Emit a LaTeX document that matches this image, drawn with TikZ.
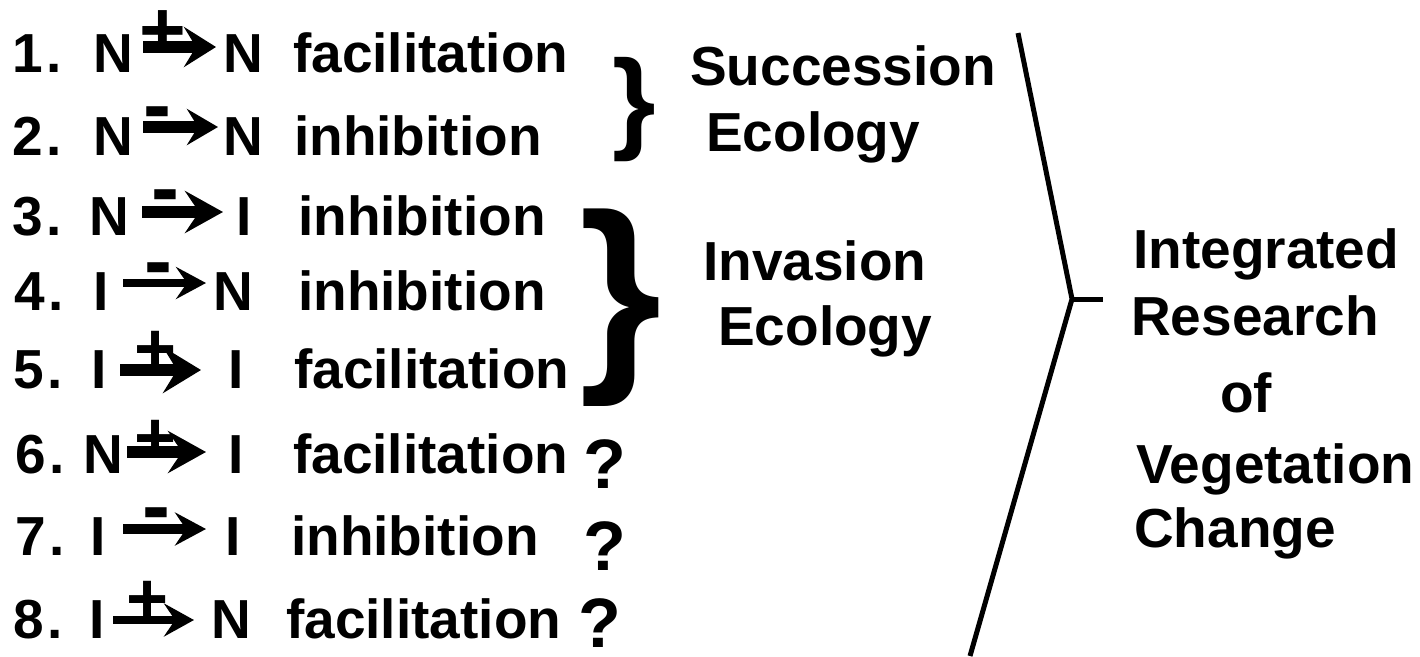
\documentclass[tikz,border=0pt]{standalone}
\usepackage{fontspec}
\setmainfont{Liberation Sans}
\usetikzlibrary{arrows.meta}
\tikzset{
  txt/.style={anchor=base west, inner sep=0pt, font=\fontsize{55}{66}\selectfont\bfseries},
  qmk/.style={anchor=base west, inner sep=0pt, font=\fontsize{70}{80}\selectfont\bfseries},
  sgn/.style={anchor=base, inner sep=0pt, font=\fontsize{#1}{#1}\selectfont\bfseries},
  brc/.style={anchor=base, inner sep=0pt, font=\fontsize{#1}{#1}\selectfont\bfseries},
  rel/.style n args={4}{line width=#1pt, -{Stealth[length=#2pt, width=#3pt, inset=#4pt]}},
  link/.style={line width=5pt}
}
\begin{document}
\begin{tikzpicture}[x=1pt, y=-1pt]
\useasboundingbox (0,0) rectangle (1420,656);
% row 1
\node[txt] (n1) at (12,72) {1\kern4pt.};
\node[txt] (a1) at (93,72) {N};
\node[txt] (b1) at (223,72) {N};
\node[txt] (w1) at (293,72) {facilitation};
\coordinate (p1) at (143,47); \coordinate (q1) at (216,47);
\draw[rel={12}{32}{40}{12}] (p1) -- (q1);
\node[sgn=80] (s1) at (162.5,57) {+};
% row 2
\node[txt] (n2) at (12,155) {2\kern4pt.};
\node[txt] (a2) at (93,155) {N};
\node[txt] (b2) at (223,155) {N};
\node[txt] (w2) at (294,155) {inhibition};
\coordinate (p2) at (143,127); \coordinate (q2) at (218,127);
\draw[rel={12}{31}{36}{11}] (p2) -- (q2);
\node[sgn=84] (s2) at (157,133) {-};
% row 3
\node[txt] (n3) at (12,235) {3\kern4pt.};
\node[txt] (a3) at (89,235) {N};
\node[txt] (b3) at (236,235) {I};
\node[txt] (w3) at (298,235) {inhibition};
\coordinate (p3) at (142,212); \coordinate (q3) at (223,212);
\draw[rel={12}{38}{42}{14}] (p3) -- (q3);
\node[sgn=84] (s3) at (165,216) {-};
% row 4
\node[txt] (n4) at (14,310) {4\kern4pt.};
\node[txt] (a4) at (93,310) {I};
\node[txt] (b4) at (213,310) {N};
\node[txt] (w4) at (298,310) {inhibition};
\coordinate (p4) at (123,283); \coordinate (q4) at (206,283);
\draw[rel={8}{30}{32}{11}] (p4) -- (q4);
\node[sgn=84] (s4) at (158,289) {-};
% row 5
\node[txt] (n5) at (13,388) {5\kern4pt.};
\node[txt] (a5) at (91,388) {I};
\node[txt] (b5) at (228,388) {I};
\node[txt] (w5) at (294,388) {facilitation};
\coordinate (p5) at (120,370); \coordinate (q5) at (201,370);
\draw[rel={12}{38}{46}{14}] (p5) -- (q5);
\node[sgn=72] (s5) at (155.5,373) {+};
% row 6
\node[txt] (n6) at (15,473) {6\kern4pt.};
\node[txt] (a6) at (83,473) {N};
\node[txt] (b6) at (228,473) {I};
\node[txt] (w6) at (293,473) {facilitation};
\node[qmk] (qm6) at (583,488) {?};
\coordinate (p6) at (127,452); \coordinate (q6) at (206,452);
\draw[rel={12}{38}{42}{14}] (p6) -- (q6);
\node[sgn=72] (s6) at (155.5,462.5) {+};
% row 7
\node[txt] (n7) at (15,555) {7\kern4pt.};
\node[txt] (a7) at (90,555) {I};
\node[txt] (b7) at (225,555) {I};
\node[txt] (w7) at (291,555) {inhibition};
\node[qmk] (qm7) at (583,570) {?};
\coordinate (p7) at (123,529); \coordinate (q7) at (206,529);
\draw[rel={10}{31}{33}{11}] (p7) -- (q7);
\node[sgn=84] (s7) at (156.5,534) {-};
% row 8
\node[txt] (n8) at (13,638) {8\kern4pt.};
\node[txt] (a8) at (89,638) {I};
\node[txt] (b8) at (211,638) {N};
\node[txt] (w8) at (286,638) {facilitation};
\node[qmk] (qm8) at (578,647) {?};
\coordinate (p8) at (113,620); \coordinate (q8) at (194,620);
\draw[rel={8}{30}{33}{11}] (p8) -- (q8);
\node[sgn=72] (s8) at (147.5,623) {+};
% braces
\node[brc=112] (br1) at (634,138.5) {\}};
\node[brc=212] (br2) at (621,362.5) {\}};
% middle labels
\node[txt] (succ) at (690,85) {Succession};
\node[txt] (eco1) at (706,151) {Ecology};
\node[txt] (inv) at (703,280) {Invasion};
\node[txt] (eco2) at (718,345) {Ecology};
% right labels
\node[txt] (int) at (1133,268) {Integrated};
\node[txt] (res) at (1131,335) {Research};
\node[txt] (of) at (1220,412) {of};
\node[txt] (veg) at (1136,483) {Vegetation};
\node[txt] (chg) at (1134,547) {Change};
% converging lines
\coordinate (ltop) at (1018,33);
\coordinate (lmid) at (1072,299);
\coordinate (lend) at (1103,299);
\coordinate (lbot) at (970,656);
\draw[link] (ltop) -- (lmid) -- (lbot);
\draw[link] (lmid) -- (lend);
\end{tikzpicture}
\end{document}
